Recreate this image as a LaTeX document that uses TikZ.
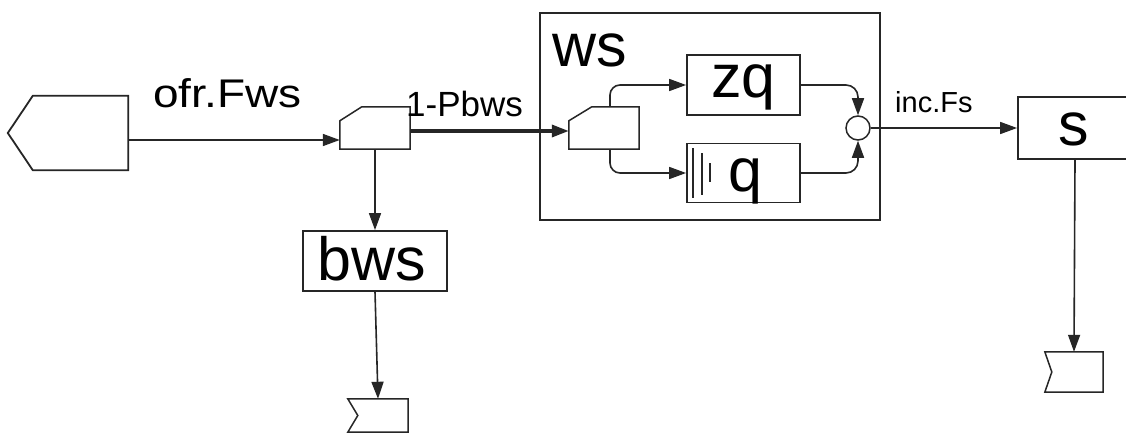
\documentclass[tikz,border=0pt]{standalone}
\usepackage{fontspec}
\setmainfont{Liberation Sans}
\usetikzlibrary{arrows.meta,calc}
\tikzset{
  every picture/.style={x=1pt,y=-1pt},
  boxnode/.style={draw=none,inner sep=0pt,minimum width=#1},
  frame/.style={draw=black!85,line width=1.8pt},
  conn/.style={draw=black!85,line width=1.6pt},
  arr/.style={conn,-{Triangle[length=17pt,width=12pt]}},
  thickarr/.style={draw=black!85,line width=3.5pt,-{Triangle[length=17pt,width=12pt]}},
  bigtxt/.style={anchor=base west,inner sep=0pt,font=\fontsize{61}{61}\selectfont},
  midtxt/.style={anchor=base west,inner sep=0pt,font=\fontsize{35}{35}\selectfont},
  smalltxt/.style={anchor=base west,inner sep=0pt,font=\fontsize{29}{29}\selectfont},
}
\begin{document}
\begin{tikzpicture}
\useasboundingbox (0,0) rectangle (1126,433);
\fill[white] (0,0) rectangle (1126,433);
% nodes (invisible frames, outlines drawn below)
\node[boxnode=120pt,minimum height=74pt] (src) at (68,133) {};
\node[boxnode=70pt,minimum height=42pt] (dec1) at (375,128) {};
\node[boxnode=144pt,minimum height=60pt,frame] (bws) at (375,261) {};
\node[boxnode=60pt,minimum height=33pt] (sink1) at (378,415.5) {};
\node[boxnode=340pt,minimum height=207pt,frame] (ws) at (710,116.5) {};
\node[boxnode=70pt,minimum height=42pt] (dec2) at (604,128) {};
\node[boxnode=113pt,minimum height=60pt,frame] (zq) at (743.5,85) {};
\node[boxnode=113pt,minimum height=59pt,frame] (q) at (743.5,173) {};
\node[circle,draw=black!85,line width=1.5pt,minimum size=24pt,inner sep=0pt] (join) at (858,128) {};
\node[boxnode=114pt,minimum height=62pt,frame] (s) at (1075,128) {};
\node[boxnode=58pt,minimum height=40pt] (sink2) at (1074,372) {};

% source pentagon
\draw[frame] (src.west) -- ($(src.north west)+(25,0)$) -- (src.north east)
  -- (src.south east) -- ($(src.south west)+(25,0)$) -- cycle;
% decision nodes (chamfered top-left corner)
\draw[frame,line width=1.5pt] ($(dec1.north west)+(0,14)$) -- ($(dec1.north west)+(22,0)$)
  -- (dec1.north east) -- (dec1.south east) -- (dec1.south west) -- cycle;
\draw[frame,line width=1.5pt] ($(dec2.north west)+(0,14)$) -- ($(dec2.north west)+(23,0)$)
  -- (dec2.north east) -- (dec2.south east) -- (dec2.south west) -- cycle;
% sinks
\draw[frame,line width=1.5pt] (sink1.north west) -- (sink1.north east) -- (sink1.south east)
  -- (sink1.south west) -- ($(sink1.west)+(10,0)$) -- cycle;
\draw[frame,line width=1.5pt] (sink2.north west) -- (sink2.north east) -- (sink2.south east)
  -- (sink2.south west) -- ($(sink2.west)+(7,0)$) -- cycle;
% queue marks inside q
\draw[conn,line width=1.4pt] ($(q.west)+(7,-25)$) -- ($(q.west)+(7,25)$);
\draw[conn,line width=1.4pt] ($(q.west)+(16,-20)$) -- ($(q.west)+(16,22)$);
\draw[conn,line width=1.4pt] ($(q.west)+(24,-10)$) -- ($(q.west)+(24,9)$);

% connectors
\coordinate (srcout) at ($(src.east)+(0,7)$);
\draw[arr] (srcout) -- (srcout -| dec1.west);
\coordinate (d1out) at ($(dec1.east)+(0,3)$);
\draw[thickarr] (d1out) -- (d1out -| dec2.west);
\draw[arr] (dec1.south) -- (bws.north);
\draw[arr] (bws.south) -- (sink1.north);
\draw[arr,rounded corners=10pt] ($(dec2.north)+(6,0)$) |- (zq.west);
\draw[arr,rounded corners=10pt] ($(dec2.south)+(6,0)$) |- (q.west);
\draw[arr,rounded corners=12pt] (zq.east) -| (join.north);
\draw[arr,rounded corners=12pt] (q.east) -| (join.south);
\draw[arr] (join.east) -- (s.west);
\draw[arr] (s.south) -- (sink2.north);

% labels
\node[anchor=base west,inner sep=0pt,font=\fontsize{40}{40}\selectfont] (lofr) at (153,107) {\scalebox{1.15}[1]{ofr.Fws}};
\node[midtxt] (lpb) at (406,117) {1-Pbws};
\node[smalltxt] (linc) at (895,113) {inc.Fs};
\node[bigtxt] (lws) at (552,67) {ws};
\node[bigtxt] (lzq) at (711,98) {zq};
\node[bigtxt] (lq) at (728,191) {q};
\node[bigtxt] (lbws) at (317,280) {bws};
\node[bigtxt] (ls) at (1058,145) {s};
\end{tikzpicture}
\end{document}
